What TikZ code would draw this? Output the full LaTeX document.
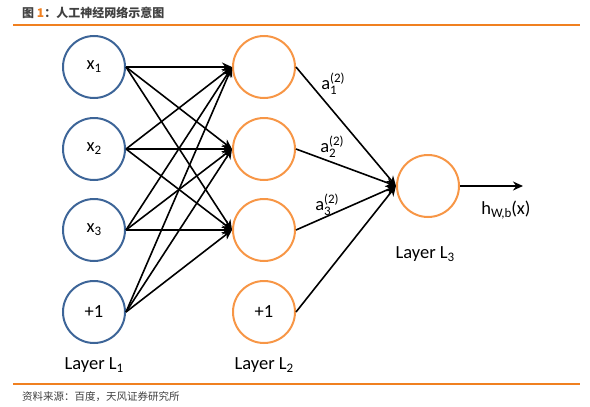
\documentclass[tikz,border=0pt]{standalone}
\usepackage{fontspec}
\setmainfont{Carlito}
\newfontfamily\cjk{Noto Sans CJK SC}
\usetikzlibrary{arrows.meta}
\definecolor{nblue}{HTML}{3D6598}
\definecolor{norange}{HTML}{F79646}
\definecolor{rule}{HTML}{F08020}
\definecolor{tgray}{HTML}{404040}
\newcommand{\lo}[1]{\raisebox{-0.35ex}{\fontsize{13}{13}\selectfont #1}}
\newcommand{\supsub}[2]{\makebox[0pt][l]{\raisebox{0.75ex}{\fontsize{13}{13}\selectfont #1}}\raisebox{-0.6ex}{\fontsize{13}{13}\selectfont #2}}
\tikzset{
  inbox/.style={circle, draw=nblue, line width=2pt, minimum size=62pt, inner sep=0pt, font=\fontsize{18.5}{20}\selectfont},
  hidbox/.style={circle, draw=norange, line width=2pt, minimum size=62pt, inner sep=0pt, font=\fontsize{18.5}{20}\selectfont},
  conn/.style={line width=1.6pt, -{Stealth[length=10pt,width=9pt]}},
  lbl/.style={font=\fontsize{18.5}{20}\selectfont, inner sep=0pt},
}
\begin{document}
\begin{tikzpicture}[x=1pt,y=-1pt]
\useasboundingbox (0,0) rectangle (590,407);
% header and footer
\node[anchor=west, inner sep=0pt, text=tgray, font=\cjk\bfseries\fontsize{12}{14}\selectfont] (title) at (22,13) {图 {\color{rule}1}：人工神经网络示意图};
\draw[rule, line width=1.4pt] (13,25) -- (580,25);
\draw[rule, line width=1.4pt] (13,384) -- (580,384);
\node[anchor=west, inner sep=0pt, text=tgray, font=\cjk\fontsize{10.5}{12}\selectfont] (src) at (22,397) {资料来源：百度，天风证券研究所};
% layer 1
\node[inbox] (x1) at (94,67) {x\lo{1}};
\node[inbox] (x2) at (94,149) {x\lo{2}};
\node[inbox] (x3) at (94,230) {x\lo{3}};
\node[inbox] (b1) at (94,312) {+1};
% layer 2
\node[hidbox] (h1) at (264,67) {};
\node[hidbox] (h2) at (264,149) {};
\node[hidbox] (h3) at (264,230) {};
\node[hidbox] (b2) at (264,312) {+1};
% output
\node[hidbox] (o) at (428,186) {};
\coordinate (out) at (523,186);
% connections layer1 -> layer2
\foreach \s in {x1,x2,x3,b1}{
  \foreach \t in {h1,h2,h3}{
    \draw[conn] (\s.east) -- (\t.west);
  }
}
% layer2 -> output
\foreach \s in {h1,h2,h3,b2}{
  \draw[conn] (\s.east) -- (o.west);
}
\draw[conn] (o.east) -- (out);
% labels
\node[lbl] (a1) at (329,84) {a\supsub{(2)}{1}};
\node[lbl] (a2) at (328,147) {a\supsub{(2)}{2}};
\node[lbl] (a3) at (323,205) {a\supsub{(2)}{3}};
\node[lbl] (hx) at (506,210) {h\lo{W,b}(x)};
\node[lbl] (L1) at (94,365) {Layer L\lo{1}};
\node[lbl] (L2) at (264,365) {Layer L\lo{2}};
\node[lbl] (L3) at (425,254) {Layer L\lo{3}};
\end{tikzpicture}
\end{document}
